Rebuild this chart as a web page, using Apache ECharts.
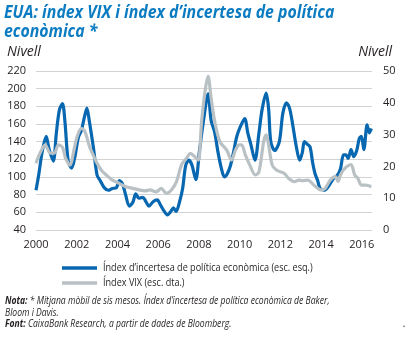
<!DOCTYPE html>
<html>
<head>
<meta charset="utf-8">
<script src="https://cdn.jsdelivr.net/npm/echarts@6/dist/echarts.min.js"></script>
<style>
  html, body { margin: 0; padding: 0; background: #ffffff; }
  #chart { width: 407px; height: 338px; }
</style>
</head>
<body>
<div id="chart"></div>
<script>
// Economic policy uncertainty index (left scale), six-month moving average
const uncertaintyYears = [
  2000.0, 2000.13, 2000.3, 2000.5, 2000.65, 2000.85, 2001.0, 2001.15, 2001.3, 2001.42,
  2001.58, 2001.75, 2001.92, 2002.08, 2002.22, 2002.38, 2002.5, 2002.62, 2002.82, 2003.0,
  2003.15, 2003.35, 2003.55, 2003.75, 2003.95, 2004.1, 2004.25, 2004.4, 2004.58, 2004.75,
  2004.9, 2005.05, 2005.25, 2005.4, 2005.55, 2005.75, 2005.95, 2006.12, 2006.3, 2006.45,
  2006.62, 2006.75, 2006.88, 2007.05, 2007.2, 2007.35, 2007.5, 2007.65, 2007.85, 2008.02,
  2008.22, 2008.45, 2008.6, 2008.77, 2008.93, 2009.1, 2009.25, 2009.4, 2009.55, 2009.7,
  2009.85, 2010.0, 2010.25, 2010.4, 2010.55, 2010.75, 2010.95, 2011.1, 2011.3, 2011.42,
  2011.53, 2011.72, 2011.95, 2012.12, 2012.3, 2012.45, 2012.6, 2012.77, 2012.95, 2013.08,
  2013.18, 2013.33, 2013.46, 2013.58, 2013.7, 2013.83, 2013.95, 2014.15, 2014.35, 2014.6,
  2014.8, 2014.95, 2015.1, 2015.22, 2015.33, 2015.47, 2015.6, 2015.75, 2015.88, 2015.98,
  2016.1, 2016.26, 2016.37, 2016.47
];
const uncertaintyValues = [
  85, 102, 128, 146, 131, 118, 150, 176, 183, 163,
  118, 110, 124, 145, 152, 168, 178, 163, 133, 102,
  96, 88, 85, 87, 88, 96, 92, 80, 67, 71,
  81, 76, 77, 72, 67, 72, 74, 68, 61, 57,
  61, 65, 61, 72, 87, 113, 119, 114, 97, 128,
  163, 194, 164, 151, 129, 110, 100, 104, 113, 128,
  145, 155, 166, 150, 137, 119, 150, 176, 195, 178,
  140, 130, 140, 172, 184, 178, 160, 136, 119, 128,
  140, 137, 134, 117, 104, 96, 87, 85, 89, 98,
  102, 109, 125, 125, 121, 131, 123, 130, 144, 146,
  131, 159, 150, 155
];

// VIX index (right scale), six-month moving average
const vixYears = [
  2000.0, 2000.15, 2000.45, 2000.7, 2000.9, 2001.1, 2001.3, 2001.45, 2001.68, 2001.85,
  2002.02, 2002.23, 2002.4, 2002.63, 2002.85, 2003.0, 2003.2, 2003.45, 2003.75, 2004.1,
  2004.42, 2004.75, 2005.07, 2005.35, 2005.6, 2005.9, 2006.15, 2006.4, 2006.65, 2006.9,
  2007.14, 2007.39, 2007.59, 2007.78, 2007.97, 2008.13, 2008.3, 2008.45, 2008.6, 2008.78,
  2009.03, 2009.36, 2009.6, 2009.8, 2009.98, 2010.1, 2010.28, 2010.5, 2010.77, 2010.95,
  2011.18, 2011.31, 2011.42, 2011.6, 2011.8, 2012.0, 2012.2, 2012.41, 2012.7, 2012.9,
  2013.1, 2013.35, 2013.65, 2014.0, 2014.2, 2014.45, 2014.7, 2014.83, 2014.95, 2015.1,
  2015.25, 2015.47, 2015.65, 2015.8, 2015.98, 2016.2, 2016.47
];
const vixValues = [
  21, 23.5, 26.8, 24.2, 24.2, 26.8, 26, 22.6, 20.4, 24.7,
  29.4, 32, 31, 26.2, 23, 21, 18.9, 17.3, 15.7, 14.6,
  13.6, 13.1, 12.6, 12.3, 12.6, 12, 13.1, 11.5, 12.6, 15.2,
  20.4, 22.6, 24.1, 23.1, 22, 34, 43.6, 48.3, 41.5, 34,
  27.8, 25.2, 22, 25.2, 26.8, 26.8, 23.6, 20.4, 17.3, 18.3,
  27.8, 29.9, 26.8, 20.4, 18.9, 18.3, 17.8, 16.2, 15.2, 15.7,
  15.5, 15.7, 14.1, 12.6, 13.1, 15.7, 16.8, 15.2, 17.3, 18.9,
  19.9, 20.6, 17.3, 16.3, 14.1, 14.1, 13.6
];

// Axis ranges and tick steps
const yearRange = [2000, 2016.5];
const yearStep = 2;
const leftRange = [40, 220];
const leftStep = 20;
const rightRange = [0, 50];
const rightStep = 10;

const seriesNames = [
  'Índex d’incertesa de política econòmica (esc. esq.)',
  'Índex VIX (esc. dta.)'
];
const titleText = 'EUA: índex VIX i índex d’incertesa de política\neconòmica *';
const axisUnit = 'Nivell';
const noteLines = [
  '{b|Nota:} * Mitjana mòbil de sis mesos. Índex d’incertesa de política econòmica de Baker,',
  'Bloom i Davis.',
  '{b|Font:} CaixaBank Research, a partir de dades de Bloomberg.'
];

const BLUE = '#0767b0';
const GREY = '#b9c1c5';
const TITLE_BLUE = '#0c7cc2';
const TEXT = '#231f20';
const FONT = '"Open Sans", "Noto Sans", sans-serif';

const pairs = (xs, ys) => xs.map((x, i) => [x, ys[i]]);

const chart = echarts.init(document.getElementById('chart'), null, { renderer: 'canvas' });

// Legend: a line sample and a label for each series
const legendItems = [];
seriesNames.forEach((name, i) => {
  const y = 268 + i * 15;
  legendItems.push({
    type: 'line', shape: { x1: 62, y1: y, x2: 97, y2: y },
    style: { stroke: i === 0 ? BLUE : GREY, lineWidth: 3.5 }
  });
  legendItems.push({
    type: 'text', x: 103, y: y, scaleX: 0.865,
    style: { text: name, font: '10.5px ' + FONT, fill: TEXT, verticalAlign: 'middle', align: 'left' }
  });
});

// Footnotes under the chart
const noteItems = noteLines.map((line, i) => ({
  type: 'text', x: 5, y: 301 + i * 11.5, scaleX: 0.78,
  style: {
    text: line, fill: TEXT, verticalAlign: 'middle', align: 'left',
    font: 'italic 11px ' + FONT,
    rich: { b: { fontWeight: 'bold', fontStyle: 'italic', fontSize: 11, fontFamily: FONT, fill: TEXT } }
  }
}));

const option = {
  animation: false,
  backgroundColor: '#ffffff',
  grid: { left: 36, right: 35, top: 71, bottom: 108, containLabel: false },
  xAxis: {
    type: 'value',
    min: yearRange[0], max: yearRange[1], interval: yearStep,
    axisLine: { show: false }, axisTick: { show: false }, splitLine: { show: false },
    axisLabel: {
      showMaxLabel: false, margin: 9, fontSize: 11, color: TEXT, fontFamily: FONT,
      formatter: v => String(v)
    }
  },
  yAxis: [
    {
      type: 'value', position: 'left',
      min: leftRange[0], max: leftRange[1], interval: leftStep,
      axisLine: { show: false }, axisTick: { show: false },
      splitLine: { lineStyle: { color: '#d3d3d3', width: 1 } },
      axisLabel: { margin: 10, fontSize: 11, color: TEXT, fontFamily: FONT }
    },
    {
      type: 'value', position: 'right',
      min: rightRange[0], max: rightRange[1], interval: rightStep,
      axisLine: { show: false }, axisTick: { show: false }, splitLine: { show: false },
      axisLabel: { margin: 11, fontSize: 11, color: TEXT, fontFamily: FONT }
    }
  ],
  series: [
    {
      name: seriesNames[0], type: 'line', yAxisIndex: 0,
      data: pairs(uncertaintyYears, uncertaintyValues),
      showSymbol: false, smooth: 0.3,
      lineStyle: { color: BLUE, width: 3.2 }, itemStyle: { color: BLUE }
    },
    {
      name: seriesNames[1], type: 'line', yAxisIndex: 1,
      data: pairs(vixYears, vixValues),
      showSymbol: false, smooth: 0.3,
      lineStyle: { color: GREY, width: 3.2 }, itemStyle: { color: GREY }
    }
  ],
  graphic: [
    {
      type: 'text', x: 4, y: 3, scaleX: 0.88,
      style: {
        text: titleText, font: 'italic bold 18px ' + FONT, fill: TITLE_BLUE,
        lineHeight: 19, align: 'left', verticalAlign: 'top'
      }
    },
    {
      type: 'text', x: 7, y: 52,
      style: { text: axisUnit, font: 'italic 14px ' + FONT, fill: TEXT, align: 'left', verticalAlign: 'middle' }
    },
    {
      type: 'text', x: 392, y: 52,
      style: { text: axisUnit, font: 'italic 14px ' + FONT, fill: TEXT, align: 'right', verticalAlign: 'middle' }
    },
    ...legendItems,
    ...noteItems,
    {
      type: 'text', x: 404, y: 324,
      style: { text: '.', font: '10px ' + FONT, fill: TEXT, align: 'center', verticalAlign: 'middle' }
    }
  ]
};

chart.setOption(option);
</script>
</body>
</html>
